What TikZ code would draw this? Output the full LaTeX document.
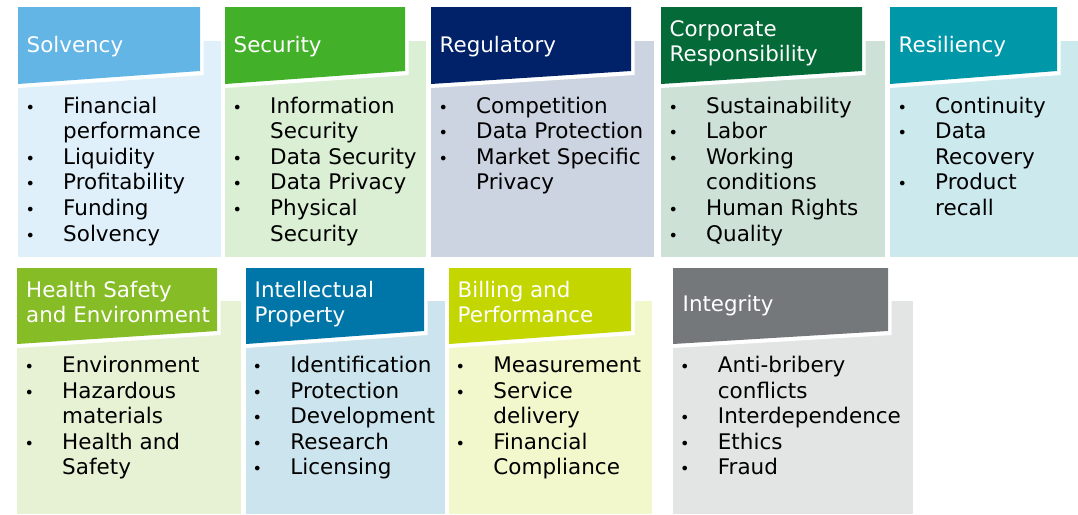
\documentclass[tikz,border=0pt]{standalone}
\usepackage{fontspec}
\setmainfont{DejaVu Sans}
\definecolor{cSolv}{HTML}{62B5E5}
\definecolor{cSecu}{HTML}{43B02A}
\definecolor{cRegu}{HTML}{012169}
\definecolor{cCorp}{HTML}{046A38}
\definecolor{cResi}{HTML}{0097A9}
\definecolor{cHSE}{HTML}{86BC25}
\definecolor{cIP}{HTML}{0076A8}
\definecolor{cBill}{HTML}{C4D600}
\definecolor{cInteg}{HTML}{75787B}
\newcommand\hfnt{\fontsize{21.4}{25.7}\selectfont}
\newcommand\lfnt{\fontsize{21.5}{25.6}\selectfont}
\newcommand\bul{\makebox[37.7pt][l]{\fontsize{16}{16}\selectfont\textbullet}}
\newcommand\lst[1]{\begin{tabular}[t]{@{}l@{}l@{}}#1\end{tabular}}
\newcommand\hd[1]{\begin{tabular}[t]{@{}l@{}}#1\end{tabular}}
% row one block: colour, left, header right, panel right
\newcommand\rowA[4]{%
  \fill[#1!20] (#2,41) rectangle (#4,257);
  \fill[white] (#2,30) -- (#3+3.5,30) -- (#3+3.5,75) -- (#2,88) -- cycle;
  \fill[#1] (#2,7) -- (#3,7) -- (#3,71) -- (#2,84) -- cycle;}
% row two block
\newcommand\rowB[4]{%
  \fill[#1!20] (#2,301) rectangle (#4,514);
  \fill[white] (#2,290) -- (#3+3.5,290) -- (#3+3.5,335) -- (#2,348) -- cycle;
  \fill[#1] (#2,268) -- (#3,268) -- (#3,331) -- (#2,344) -- cycle;}
\begin{document}
\begin{tikzpicture}[x=1pt,y=-1pt,
  hdr/.style={anchor=base west,inner sep=0pt,text=white,font=\hfnt},
  lst/.style={anchor=base west,inner sep=0pt,text=black,font=\lfnt}]
\useasboundingbox[fill=white] (0,0) rectangle (1078,514);
% ---- row one
\rowA{cSolv}{18}{200}{221}
\rowA{cSecu}{225}{405}{426}
\rowA{cRegu}{431}{631}{654}
\rowA{cCorp}{661}{862}{885}
\rowA{cResi}{890}{1057}{1078}
\node[hdr] (solv) at (26.5,52.7) {\hd{Solvency}};
\node[hdr] (secu) at (233.5,52.7) {\hd{Security}};
\node[hdr] (regu) at (439.5,52.7) {\hd{Regulatory}};
\node[hdr] (corp) at (669.5,36) {\hd{Corporate\\Responsibility}};
\node[hdr] (resi) at (898.5,52.7) {\hd{Resiliency}};
\node[lst] (solv-l) at (25.3,113) {\lst{\bul & Financial\\ & performance\\ \bul & Liquidity\\ \bul & Profitability\\ \bul & Funding\\ \bul & Solvency}};
\node[lst] (secu-l) at (232.3,113) {\lst{\bul & Information\\ & Security\\ \bul & Data Security\\ \bul & Data Privacy\\ \bul & Physical\\ & Security}};
\node[lst] (regu-l) at (438.3,113) {\lst{\bul & Competition\\ \bul & Data Protection\\ \bul & Market Specific\\ & Privacy}};
\node[lst] (corp-l) at (668.3,113) {\lst{\bul & Sustainability\\ \bul & Labor\\ \bul & Working\\ & conditions\\ \bul & Human Rights\\ \bul & Quality}};
\node[lst] (resi-l) at (897.3,113) {\lst{\bul & Continuity\\ \bul & Data\\ & Recovery\\ \bul & Product\\ & recall}};
% ---- row two
\rowB{cHSE}{17}{217}{241}
\rowB{cIP}{246}{424}{445}
\rowB{cBill}{449}{631}{652}
\rowB{cInteg}{673}{888}{913}
\node[hdr] (hse) at (26,297) {\hd{Health Safety\\and Environment}};
\node[hdr] (ip) at (254.5,297) {\hd{Intellectual\\Property}};
\node[hdr] (bill) at (457.5,297) {\hd{Billing and\\Performance}};
\node[hdr] (integ) at (682.5,311.7) {\hd{Integrity}};
\node[lst] (hse-l) at (24.3,372.5) {\lst{\bul & Environment\\ \bul & Hazardous\\ & materials\\ \bul & Health and\\ & Safety}};
\node[lst] (ip-l) at (252.5,372.5) {\lst{\bul & Identification\\ \bul & Protection\\ \bul & Development\\ \bul & Research\\ \bul & Licensing}};
\node[lst] (bill-l) at (455.5,372.5) {\lst{\bul & Measurement\\ \bul & Service\\ & delivery\\ \bul & Financial\\ & Compliance}};
\node[lst] (integ-l) at (680,372.5) {\lst{\bul & Anti-bribery\\ & conflicts\\ \bul & Interdependence\\ \bul & Ethics\\ \bul & Fraud}};
\end{tikzpicture}
\end{document}
